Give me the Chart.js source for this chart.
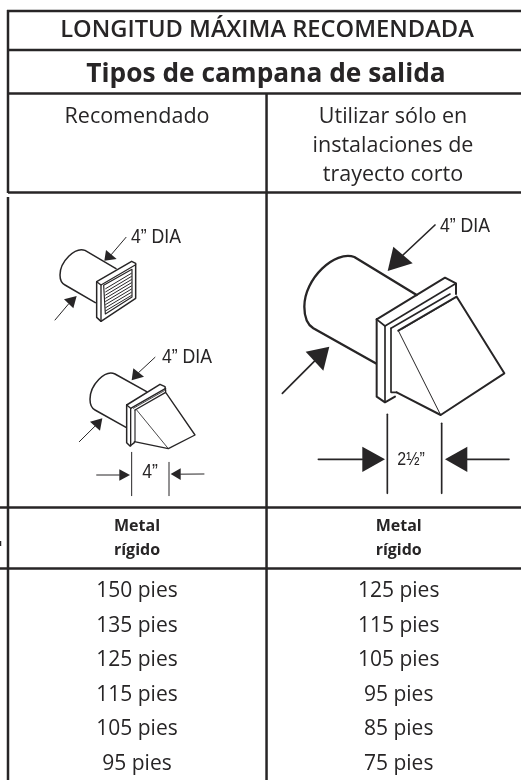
<!DOCTYPE html>
<html>
<head>
<meta charset="utf-8">
<style>
  html, body { margin: 0; padding: 0; background: #fff; overflow: hidden; }
  canvas { display: block; }
</style>
<script src="https://cdn.jsdelivr.net/npm/chart.js@4/dist/chart.umd.min.js"></script>
</head>
<body>
<canvas id="ventTable" width="521" height="780"></canvas>
<script>
const mainTitle = 'LONGITUD MÁXIMA RECOMENDADA';
const subTitle = 'Tipos de campana de salida';
const recommendedHeader = ['Recomendado'];
const shortRunHeader = ['Utilizar sólo en', 'instalaciones de', 'trayecto corto'];
const materialHeader = ['Metal', 'rígido'];
const recommendedFeet = [150, 135, 125, 115, 105, 95];
const shortRunFeet = [125, 115, 105, 95, 85, 75];
const unit = 'pies';

const ink = '#272526';
const bodyFont = '"Open Sans", sans-serif';
const dimFont = '"Liberation Sans", sans-serif';

// column 0 / 1 centres and row 0..5 centres set the scale ranges
const colStart = 137, colStep = 261.7;
const rowStart = 589.5, rowStep = 34.5;

function text(ctx, str, x, y, font) {
  ctx.font = font;
  ctx.fillStyle = ink;
  ctx.textAlign = 'center';
  ctx.textBaseline = 'alphabetic';
  ctx.fillText(str, x, y);
}

// the dimension labels are set in a condensed face, squeeze a regular one
function narrowText(ctx, str, x, y, size) {
  ctx.save();
  ctx.translate(x, y);
  ctx.scale(0.84, 1);
  text(ctx, str, 0, 0, size + 'px ' + dimFont);
  ctx.restore();
}

function rule(ctx, x1, y1, x2, y2, width) {
  ctx.strokeStyle = ink;
  ctx.lineWidth = width;
  ctx.beginPath();
  ctx.moveTo(x1, y1);
  ctx.lineTo(x2, y2);
  ctx.stroke();
}

function path(ctx, pts, width, close) {
  ctx.lineWidth = width;
  ctx.beginPath();
  pts.forEach((p, i) => (i ? ctx.lineTo(p[0], p[1]) : ctx.moveTo(p[0], p[1])));
  if (close) ctx.closePath();
  ctx.stroke();
}

function arrow(ctx, from, tip, b1, b2, width) {
  path(ctx, [from, [(b1[0] + b2[0]) / 2, (b1[1] + b2[1]) / 2]], width);
  ctx.beginPath();
  ctx.moveTo(tip[0], tip[1]);
  ctx.lineTo(b1[0], b1[1]);
  ctx.lineTo(b2[0], b2[1]);
  ctx.closePath();
  ctx.fill();
}

// illustrations are traced in 3x coordinates of their own crop
function drawSmallVents(ctx) {
  ctx.save();
  ctx.translate(20, 200);
  ctx.scale(1 / 3, 1 / 3);
  ctx.strokeStyle = ink;
  ctx.fillStyle = ink;
  ctx.lineJoin = 'round';
  ctx.lineCap = 'round';

  // louvered vent
  ctx.lineWidth = 4.5;
  ctx.beginPath();
  ctx.moveTo(288, 206);
  ctx.lineTo(195, 151);
  ctx.bezierCurveTo(165, 140, 120, 185, 120, 225);
  ctx.bezierCurveTo(120, 240, 125, 250, 135, 255);
  ctx.lineTo(226, 308);
  ctx.stroke();
  path(ctx, [[230, 245], [335, 184], [347, 190], [347, 295], [243, 364], [230, 352]], 4.5, true);
  path(ctx, [[230, 245], [243, 255], [243, 364]], 4);
  path(ctx, [[243, 255], [347, 194]], 3.5);
  path(ctx, [[251, 256], [336, 208], [336, 291], [256, 342], [251, 256]], 3.5);
  for (let i = 0; i < 8; i++) {
    path(ctx, [[257, 266 + i * 9.5], [334, 220 + i * 9.5]], 3);
  }
  arrow(ctx, [318, 112], [253, 182], [258, 150], [290, 177], 3);
  arrow(ctx, [105, 360], [170, 288], [132, 298], [160, 325], 3);

  // hooded vent
  ctx.lineWidth = 4.5;
  ctx.beginPath();
  ctx.moveTo(380, 575);
  ctx.lineTo(285, 522);
  ctx.bezierCurveTo(255, 508, 210, 555, 210, 598);
  ctx.bezierCurveTo(210, 612, 215, 625, 225, 630);
  ctx.lineTo(318, 682);
  ctx.stroke();
  path(ctx, [[320, 615], [420, 553], [435, 560], [437, 574]], 4.5);
  path(ctx, [[320, 615], [320, 728], [330, 738], [343, 728]], 4.5);
  path(ctx, [[332, 625], [332, 738]], 4);
  path(ctx, [[320, 615], [332, 625], [437, 565]], 4);
  path(ctx, [[345, 630], [437, 577], [525, 705], [445, 746], [343, 725]], 4);
  path(ctx, [[345, 630], [345, 725]], 3.5);
  path(ctx, [[350, 630], [445, 746]], 2.5);
  path(ctx, [[340, 625], [433, 572]], 2.5);
  arrow(ctx, [405, 472], [335, 541], [340, 505], [372, 530], 3);
  arrow(ctx, [178, 725], [247, 655], [210, 665], [240, 692], 3);

  // width dimension
  path(ctx, [[335, 757], [335, 887]], 3);
  path(ctx, [[447, 787], [447, 887]], 3);
  arrow(ctx, [230, 825], [330, 825], [298, 808], [298, 842], 3);
  arrow(ctx, [552, 822], [452, 822], [482, 805], [482, 840], 3);
  ctx.restore();
}

function drawLargeVent(ctx) {
  ctx.save();
  ctx.translate(265, 200);
  ctx.scale(1 / 3, 1 / 3);
  ctx.strokeStyle = ink;
  ctx.fillStyle = ink;
  ctx.lineJoin = 'round';
  ctx.lineCap = 'round';

  ctx.lineWidth = 7;
  ctx.beginPath();
  ctx.moveTo(455, 285);
  ctx.lineTo(268, 171);
  ctx.bezierCurveTo(210, 150, 118, 235, 118, 320);
  ctx.bezierCurveTo(118, 350, 125, 372, 145, 385);
  ctx.lineTo(332, 490);
  ctx.stroke();
  path(ctx, [[335, 358], [540, 233], [573, 250], [573, 282]], 6);
  path(ctx, [[335, 358], [335, 590], [360, 607], [390, 590]], 6);
  path(ctx, [[335, 358], [360, 378], [360, 607]], 5);
  path(ctx, [[360, 378], [570, 252]], 5);
  path(ctx, [[378, 385], [378, 577], [395, 577]], 5);
  path(ctx, [[378, 385], [555, 282]], 5);
  path(ctx, [[400, 392], [575, 290], [718, 520], [527, 645], [395, 577]], 6);
  path(ctx, [[400, 392], [527, 645]], 3);
  path(ctx, [[412, 387], [565, 297]], 2.5);

  arrow(ctx, [510, 75], [368, 213], [385, 140], [443, 190], 5);
  arrow(ctx, [52, 580], [193, 440], [122, 455], [175, 512], 5);
  path(ctx, [[367, 643], [367, 880]], 5);
  path(ctx, [[530, 670], [530, 880]], 5);
  arrow(ctx, [160, 778], [360, 778], [292, 740], [292, 816], 5);
  arrow(ctx, [732, 778], [540, 778], [607, 740], [607, 816], 5);
  ctx.restore();
}

const tablePlugin = {
  id: 'tablePlugin',
  afterDatasetsDraw(chart) {
    const { ctx } = chart;
    const x = chart.scales.x;
    const col0 = x.getPixelForValue(0);
    const col1 = x.getPixelForValue(1);
    const divider = x.getPixelForValue(0.495);

    ctx.save();
    ctx.lineCap = 'butt';
    // frame and rules
    rule(ctx, 8, 10, 8, 193, 2.5);
    rule(ctx, 8, 197, 8, 780, 2.5);
    rule(ctx, divider, 94, divider, 780, 2.5);
    rule(ctx, 7, 11, 521, 11, 2.5);
    rule(ctx, 8, 50, 521, 50, 2.5);
    rule(ctx, 8, 93.5, 521, 93.5, 2.5);
    rule(ctx, 8, 192.5, 521, 192.5, 2.5);
    rule(ctx, 0, 507.5, 521, 507.5, 2.5);
    rule(ctx, 0, 568.5, 521, 568.5, 2.5);
    // clipped glyph from the neighbouring column
    rule(ctx, 0.5, 541, 0.5, 546, 1.5);

    // header text
    text(ctx, mainTitle, 267, 37, '600 23.7px ' + bodyFont);
    text(ctx, subTitle, 266, 82, 'bold 26.3px ' + bodyFont);
    recommendedHeader.forEach(s => text(ctx, s, col0, 123, '400 21.5px ' + bodyFont));
    shortRunHeader.forEach((s, i) => text(ctx, s, 393, 123 + i * 29, '400 21.5px ' + bodyFont));
    [col0, col1].forEach(cx => {
      materialHeader.forEach((s, i) => text(ctx, s, cx, 531 + i * 23.5, 'bold 16px ' + bodyFont));
    });

    // value cells come from the dataset points
    chart.data.datasets.forEach((ds, d) => {
      chart.getDatasetMeta(d).data.forEach((pt, i) => {
        text(ctx, ds.feet[i] + ' ' + unit, pt.x, pt.y + 7.5, '400 21px ' + bodyFont);
      });
    });

    drawSmallVents(ctx);
    drawLargeVent(ctx);

    // dimension labels
    narrowText(ctx, '4” DIA', 156, 243, 21);
    narrowText(ctx, '4” DIA', 187, 363, 21);
    narrowText(ctx, '4”', 150, 478, 21);
    narrowText(ctx, '4” DIA', 465, 232, 21);
    narrowText(ctx, '2½”', 411, 465, 19);
    ctx.restore();
  },
};

new Chart(document.getElementById('ventTable').getContext('2d'), {
  type: 'scatter',
  data: {
    datasets: [
      { label: recommendedHeader.join(' '), feet: recommendedFeet, data: recommendedFeet.map((v, i) => ({ x: 0, y: i })) },
      { label: shortRunHeader.join(' '), feet: shortRunFeet, data: shortRunFeet.map((v, i) => ({ x: 1, y: i })) },
    ],
  },
  options: {
    responsive: false,
    animation: false,
    layout: { padding: 0 },
    elements: { point: { radius: 0 } },
    plugins: { legend: { display: false }, tooltip: { enabled: false } },
    scales: {
      x: { type: 'linear', display: false, min: -colStart / colStep, max: (521 - colStart) / colStep },
      y: { type: 'linear', display: false, reverse: true, min: -rowStart / rowStep, max: (780 - rowStart) / rowStep },
    },
  },
  plugins: [tablePlugin],
});
</script>
</body>
</html>
